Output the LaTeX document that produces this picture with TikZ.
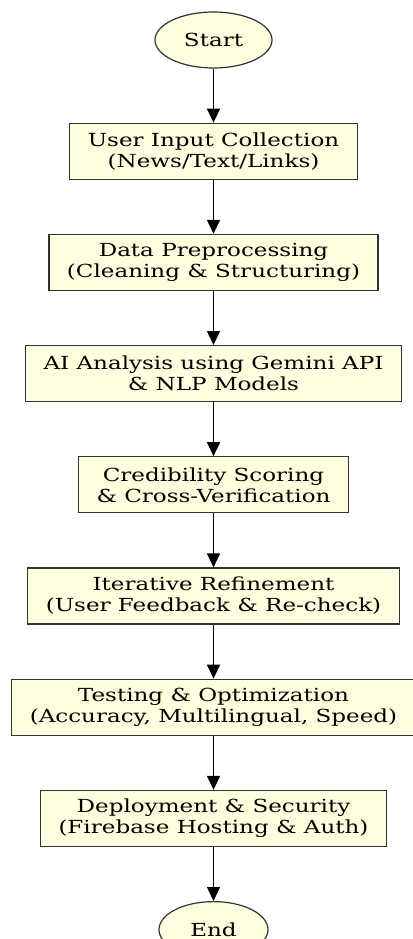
\documentclass[tikz,border=0pt]{standalone}
\usepackage{fontspec}
\setmainfont{DejaVu Serif}[FakeStretch=1.28]
\usetikzlibrary{positioning, arrows.meta, shapes.geometric}
\definecolor{lightyellow}{HTML}{FFFFE0}

\begin{document}
\begin{tikzpicture}[x=1pt, y=1pt, node distance=54pt,
    stepbox/.style={draw=black!80, fill=lightyellow, line width=1.2pt, align=center,
        minimum height=56pt, inner xsep=18pt, font=\fontsize{18}{21}\selectfont},
    term/.style={ellipse, draw=black!80, fill=lightyellow, line width=1.2pt,
        minimum height=56pt, font=\fontsize{18}{21}\selectfont},
    flow/.style={-{Triangle[length=14pt, width=13pt]}, line width=1.5pt}]
    \useasboundingbox (0,0) rectangle (412,-939);

    \node[term, minimum width=117pt] (start) at (213.5,-40) {Start};
    \node[stepbox, below=of start] (input) {User Input Collection\\(News/Text/Links)};
    \node[stepbox, below=of input] (prep) {Data Preprocessing\\(Cleaning \& Structuring)};
    \node[stepbox, below=of prep] (ai) {AI Analysis using Gemini API\\\& NLP Models};
    \node[stepbox, below=of ai] (score) {Credibility Scoring\\\& Cross-Verification};
    \node[stepbox, below=of score] (refine) {Iterative Refinement\\(User Feedback \& Re-check)};
    \node[stepbox, below=of refine] (test) {Testing \& Optimization\\(Accuracy, Multilingual, Speed)};
    \node[stepbox, below=of test] (deploy) {Deployment \& Security\\(Firebase Hosting \& Auth)};
    \node[term, minimum width=109pt, below=of deploy] (end) {End};

    \foreach \a/\b in {start/input, input/prep, prep/ai, ai/score, score/refine,
        refine/test, test/deploy, deploy/end}
        \draw[flow] (\a) -- (\b);
\end{tikzpicture}
\end{document}
